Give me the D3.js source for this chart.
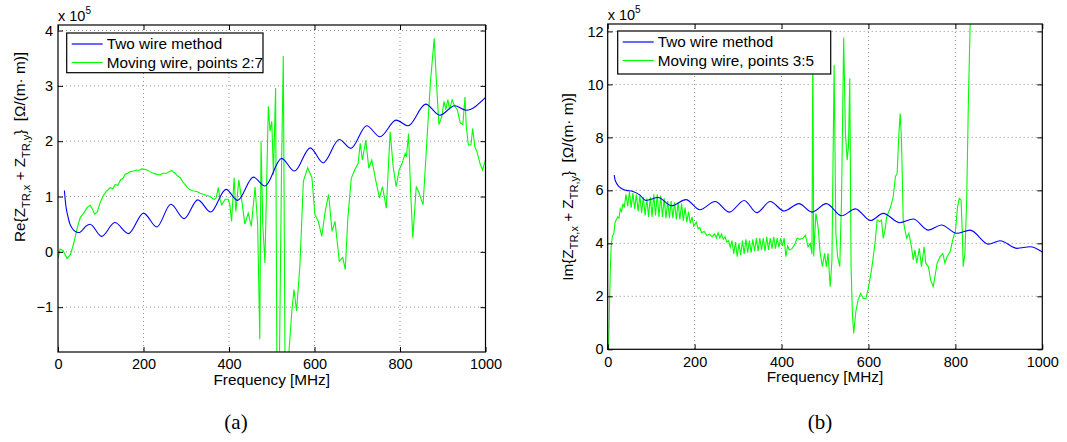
<!DOCTYPE html>
<html>
<head>
<meta charset="utf-8">
<script src="https://cdn.jsdelivr.net/npm/d3@7"></script>
<style>
  body { margin: 0; background: #fff; }
  svg { display: block; }
  text { font-family: "Liberation Sans", Arial, sans-serif; fill: #000; }
  text.caption { font-family: "Liberation Serif", "DejaVu Serif", serif; }
</style>
</head>
<body>
<div id="chart"></div>
<script>
// frequency ticks shared by both panels (MHz)
const freqTicks = [0, 200, 400, 600, 800, 1000];
const reTicks = [-1, 0, 1, 2, 3, 4];
const imTicks = [0, 2, 4, 6, 8, 10, 12];

// (a) Re{...}, x 1e5, [MHz, value]
const reTwoWire = [[15,1.11],[17,0.93],[19,0.8],[22,0.68],[25,0.58],[28,0.5],[32,0.44],[37,0.39],[43,0.36],[50,0.35],
  [58,0.4],[66,0.47],[75,0.5],[102,0.28],[133,0.53],[165,0.33],[200,0.7],[231,0.45],[264,0.86],[295,0.6],[327,0.94],
  [357,0.72],[393,1.13],[420,0.93],[457,1.35],[484,1.19],[523,1.69],[553,1.46],[590,1.88],[620,1.61],[658,2.03],
  [685,1.87],[722,2.28],[753,2.08],[791,2.38],[819,2.28],[860,2.67],[893,2.47],[928,2.64],[955,2.56],[1000,2.79]];

const reMoving = [[0,-0.12],[5,0.05],[12,0.02],[21,-0.12],[29,-0.05],[37,0.16],[44,0.4],[52,0.62],[60,0.7],[68,0.8],
  [75,0.84],[80,0.78],[86,0.68],[92,0.72],[98,0.88],[106,1.02],[114,1.1],[122,1.16],[128,1.14],[134,1.22],[140,1.2],
  [146,1.3],[152,1.33],[157,1.4],[163,1.42],[169,1.45],[177,1.46],[184,1.48],[190,1.47],[196,1.5],[202,1.49],[208,1.48],
  [215,1.45],[223,1.42],[231,1.4],[239,1.39],[246,1.42],[254,1.42],[260,1.45],[266,1.47],[270,1.44],[274,1.42],[280,1.37],
  [286,1.34],[292,1.26],[297,1.22],[303,1.16],[309,1.12],[317,1.1],[325,1.09],[332,1.06],[340,1.04],[348,1.02],[356,1.0],
  [362,0.96],[366,0.95],[370,0.98],[375,1.16],[379,0.95],[383,0.85],[391,0.95],[398,0.95],[402,0.85],[406,0.55],
  [412,1.34],[416,0.73],[423,1.3],[430,0.92],[437,0.5],[445,0.7],[452,0.46],[461,1.17],[467,0.5],[472,-1.58],[475,2.0],
  [479,0.5],[484,-0.2],[488,1.2],[492,2.63],[496,2.18],[500,2.36],[504,1.4],[509,2.96],[512,-1.95],[518,-1.95],[523,1.58],
  [527,3.54],[531,-1.95],[539,-1.95],[547,-1.07],[552,-0.68],[558,-1.07],[566,-0.23],[574,1.28],[584,1.52],[594,1.34],
  [601,0.67],[609,0.55],[617,0.28],[625,0.73],[633,1.04],[641,0.37],[648,0.55],[658,-0.17],[666,-0.1],[672,-0.32],
  [678,0.61],[686,1.33],[694,1.48],[702,1.6],[707,1.96],[712,1.66],[720,2.02],[727,1.51],[734,1.66],[743,1.3],[752,0.97],
  [759,1.18],[768,0.79],[777,2.17],[784,1.54],[791,1.18],[798,1.48],[805,1.6],[812,1.78],[815,1.72],[820,2.14],[825,1.06],
  [830,0.25],[838,1.18],[845,1.06],[854,0.85],[863,2.02],[871,3.05],[880,3.86],[885,3.1],[891,2.3],[898,2.45],[903,2.72],
  [907,2.57],[912,2.75],[916,2.57],[922,2.75],[928,2.63],[934,2.57],[941,2.33],[947,2.3],[952,2.8],[955,2.27],[960,1.93],
  [966,1.93],[970,2.23],[975,1.9],[980,1.81],[987,1.6],[993,1.48],[1000,1.66]];

// (b) Im{...}, x 1e5
const imTwoWire = [[15,6.58],[17,6.4],[20,6.28],[24,6.18],[28,6.11],[35,6.04],[43,6.0],[58,5.96],[73,5.84],[88,5.62],
  [116,5.73],[147,5.42],[180,5.65],[212,5.27],[247,5.58],[280,5.18],[314,5.62],[343,5.16],[374,5.58],[406,5.22],
  [440,5.5],[470,5.18],[503,5.5],[538,5.04],[570,5.3],[605,4.86],[634,5.13],[672,4.78],[703,4.92],[738,4.5],
  [768,4.69],[803,4.38],[834,4.5],[876,3.97],[903,4.1],[942,3.81],[972,3.87],[1000,3.67]];

const imMoving = [[2,0],[4,1.5],[6,3.0],[8,3.9],[11,4.3],[14,4.35],[17,4.8],[20,4.9],[23,5.0],[26,4.95],[29,5.3],
  [32,5.2],[35,5.5],[38,5.35],[42,5.85],[46,5.4],[50,5.95],[54,5.35],[58,5.9],[62,5.3],[66,5.85],[70,5.2],[74,5.8],
  [78,5.15],[82,5.75],[86,5.05],[90,5.7],[94,5.0],[98,5.75],[102,5.0],[106,5.85],[110,5.05],[114,5.85],[118,5.0],
  [122,5.8],[126,5.0],[130,5.7],[134,4.95],[138,5.6],[142,4.95],[146,5.6],[150,4.95],[154,5.55],[158,4.9],[162,5.55],
  [166,4.9],[170,5.5],[174,4.85],[178,5.35],[182,4.8],[186,5.2],[190,4.75],[194,5.0],[198,4.65],[204,4.8],[208,4.55],
  [212,4.6],[216,4.4],[222,4.45],[228,4.3],[234,4.35],[240,4.25],[246,4.35],[250,4.2],[254,4.4],[258,4.2],[262,4.35],
  [266,4.15],[270,4.25],[274,4.05],[278,4.1],[282,3.85],[286,4.1],[290,3.6],[294,4.05],[298,3.5],[302,4.0],[306,3.55],
  [310,4.1],[314,3.6],[318,4.15],[322,3.65],[326,4.1],[330,3.65],[334,4.15],[338,3.7],[342,4.2],[346,3.7],[350,4.2],
  [354,3.75],[358,4.2],[362,3.7],[366,4.25],[370,3.75],[374,4.2],[378,3.8],[382,4.25],[386,3.8],[390,4.2],[394,3.85],
  [398,4.2],[402,3.9],[406,4.2],[410,3.5],[414,3.9],[418,3.75],[424,3.8],[430,3.95],[436,4.2],[442,4.15],[449,4.19],
  [455,4.31],[461,3.87],[466,4.0],[470,3.6],[472,11.5],[474,3.5],[479,5.13],[484,4.63],[489,3.62],[494,3.12],[499,3.62],
  [503,3.12],[507,3.62],[512,2.36],[516,3.37],[521,10.73],[525,4.38],[529,3.5],[534,3.12],[538,5.64],[543,11.77],
  [547,8.15],[551,7.14],[554,7.65],[557,10.23],[560,3.12],[563,1.36],[566,0.6],[571,1.42],[576,1.86],[582,2.11],
  [588,1.92],[594,1.92],[599,2.24],[607,2.99],[615,4.0],[620,4.88],[626,4.82],[630,4.88],[634,4.19],[638,4.5],[642,5.0],
  [645,5.13],[651,5.38],[657,5.76],[662,6.52],[666,6.64],[670,8.15],[673,8.9],[676,7.9],[680,4.88],[684,4.5],[688,4.19],
  [693,4.38],[699,3.87],[703,3.37],[707,3.75],[711,3.25],[717,3.81],[722,3.12],[728,3.87],[732,3.25],[738,3.12],
  [743,2.62],[749,2.36],[753,2.74],[758,3.25],[765,3.5],[771,3.62],[776,3.25],[781,3.5],[788,3.69],[794,4.13],[797,4.31],
  [800,4.44],[805,5.38],[809,5.7],[813,5.64],[816,4.38],[818,3.12],[822,3.62],[826,5.64],[830,9.4],[834,12.3],[837,14]];

const W = 1067, H = 442;
const svg = d3.select("#chart").append("svg").attr("width", W).attr("height", H);

function drawPanel(p) {
  const x = d3.scaleLinear().domain([0, 1000]).range([p.left, p.right]);
  const y = d3.scaleLinear().domain(p.yDomain).range([p.bottom, p.top]);
  const g = svg.append("g");

  // dotted grid
  g.append("g").selectAll("line").data(freqTicks.slice(1, -1)).join("line")
    .attr("x1", d => x(d)).attr("x2", d => x(d)).attr("y1", p.top).attr("y2", p.bottom)
    .attr("stroke", "#777").attr("stroke-width", 0.8).attr("stroke-dasharray", "1,3");
  g.append("g").selectAll("line").data(p.yTicks.filter(d => y(d) > p.top + 1 && y(d) < p.bottom - 1)).join("line")
    .attr("x1", p.left).attr("x2", p.right).attr("y1", d => y(d)).attr("y2", d => y(d))
    .attr("stroke", "#777").attr("stroke-width", 0.8).attr("stroke-dasharray", "1,3");

  const clipId = "clip" + p.id;
  svg.append("clipPath").attr("id", clipId).append("rect")
    .attr("x", p.left).attr("y", p.top).attr("width", p.right - p.left).attr("height", p.bottom - p.top);

  const lineSmooth = d3.line().x(d => x(d[0])).y(d => y(d[1])).curve(d3.curveMonotoneX);
  const lineRaw = d3.line().x(d => x(d[0])).y(d => y(d[1]));

  const data = g.append("g").attr("clip-path", `url(#${clipId})`);
  data.append("path").datum(p.moving).attr("d", lineRaw)
    .attr("fill", "none").attr("stroke", "#00ff00").attr("stroke-width", 1.1);
  data.append("path").datum(p.twoWire).attr("d", lineSmooth)
    .attr("fill", "none").attr("stroke", "#0000ff").attr("stroke-width", 1.1);

  // axes, ticks inward on all four sides
  const fmt = d => d < 0 ? "\u2212" + Math.abs(d) : String(d);
  const ax = [
    g.append("g").attr("transform", `translate(0,${p.bottom})`)
      .call(d3.axisBottom(x).tickValues(freqTicks).tickFormat(fmt).tickSize(-5).tickPadding(7)),
    g.append("g").attr("transform", `translate(0,${p.top})`)
      .call(d3.axisTop(x).tickValues(freqTicks).tickSize(-5).tickFormat("")),
    g.append("g").attr("transform", `translate(${p.left},0)`)
      .call(d3.axisLeft(y).tickValues(p.yTicks).tickFormat(fmt).tickSize(-5).tickPadding(p.yPad)),
    g.append("g").attr("transform", `translate(${p.right},0)`)
      .call(d3.axisRight(y).tickValues(p.yTicks).tickSize(-5).tickFormat(""))
  ];
  ax.forEach(a => {
    a.select(".domain").remove();
    a.selectAll("line").attr("stroke", "#000");
    a.selectAll("text").attr("font-size", 14.5).attr("font-family", null);
  });

  g.append("rect").attr("x", p.left).attr("y", p.top)
    .attr("width", p.right - p.left).attr("height", p.bottom - p.top)
    .attr("fill", "none").attr("stroke", "#000").attr("stroke-width", 1.2);

  // exponent label
  const ex = g.append("text").attr("x", p.left).attr("y", p.top - 4).attr("font-size", 14.5);
  ex.append("tspan").text("x 10");
  ex.append("tspan").attr("dy", -7).attr("font-size", 10).text("5");

  // x label
  g.append("text").attr("x", (p.left + p.right) / 2).attr("y", p.bottom + 33)
    .attr("text-anchor", "middle").attr("font-size", 15.3).text("Frequency [MHz]");

  // y label with subscripts
  const yl = g.append("text")
    .attr("transform", `translate(${p.ylabX},${p.ylabY}) rotate(-90)`)
    .attr("text-anchor", "middle").attr("font-size", 15.3);
  yl.append("tspan").text(p.prefix + "{Z");
  yl.append("tspan").attr("dy", 5).attr("font-size", 11).text("TR,x");
  yl.append("tspan").attr("dy", -5).text(" + Z");
  yl.append("tspan").attr("dy", 5).attr("font-size", 11).text("TR,y");
  yl.append("tspan").attr("dy", -5).text("}\u00A0\u00A0[\u03A9/(m\u00B7 m)]");

  // legend
  const lg = g.append("g");
  lg.append("rect").attr("x", p.leg.x).attr("y", p.leg.y).attr("width", p.leg.w).attr("height", p.leg.h)
    .attr("fill", "#fff").attr("stroke", "#000").attr("stroke-width", 1.2);
  const items = [["Two wire method", "#0000ff"], [p.movingName, "#00ff00"]];
  items.forEach((it, i) => {
    const cy = p.leg.y + 11 + i * 18.5;
    lg.append("line").attr("x1", p.leg.x + 5).attr("x2", p.leg.x + 36).attr("y1", cy).attr("y2", cy)
      .attr("stroke", it[1]).attr("stroke-width", 1.2);
    lg.append("text").attr("x", p.leg.x + 40).attr("y", cy).attr("dy", "0.35em")
      .attr("font-size", 15.3).text(it[0]);
  });

  // caption
  svg.append("text").attr("class", "caption").attr("x", p.capX).attr("y", 429).attr("text-anchor", "middle")
    .attr("font-size", 21).text(p.caption);
}

drawPanel({
  id: "a", left: 58, right: 485.5, top: 25, bottom: 352, yDomain: [-1.81, 4.1], yTicks: reTicks, yPad: 5,
  twoWire: reTwoWire, moving: reMoving, movingName: "Moving wire, points 2:7", prefix: "Re",
  ylabX: 25, ylabY: 147, leg: { x: 66.7, y: 33, w: 196.3, h: 39.7 }, capX: 236, caption: "(a)"
});
drawPanel({
  id: "b", left: 607.7, right: 1042.3, top: 24, bottom: 349.3, yDomain: [0, 12.28], yTicks: imTicks, yPad: 4,
  twoWire: imTwoWire, moving: imMoving, movingName: "Moving wire, points 3:5", prefix: "Im",
  ylabX: 573, ylabY: 187, leg: { x: 617.7, y: 31, w: 213, h: 43 }, capX: 820, caption: "(b)"
});
</script>
</body>
</html>
